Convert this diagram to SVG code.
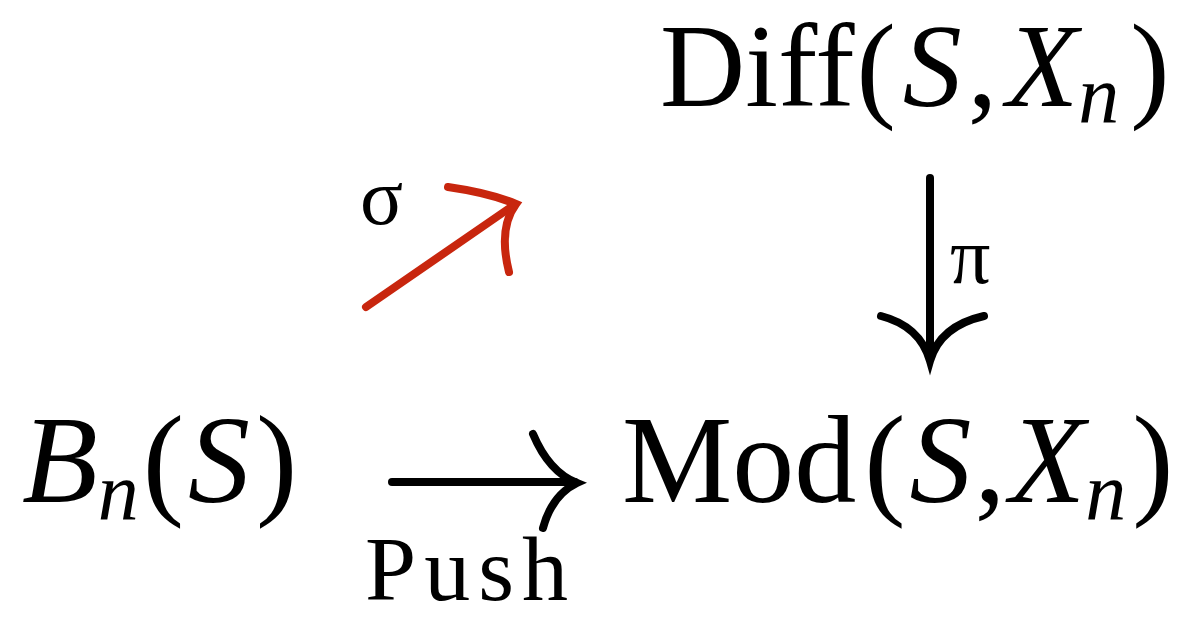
<svg xmlns="http://www.w3.org/2000/svg" width="1192" height="621" viewBox="0 0 1192 621">
<style>
.t{font-family:"Liberation Serif","Times New Roman",serif;fill:#000}
.i{font-style:italic}
.sub{font-style:italic;font-size:82px}
.ar{fill:none;stroke:#000;stroke-width:8;stroke-linecap:round}
.red{stroke:#c8260e}
</style>
<rect width="1192" height="621" fill="#fff"/>
<g id="diff">
<text class="t" x="660" y="106" font-size="118">Diff<tspan dx="2">(</tspan><tspan class="i" dx="7">S</tspan><tspan dx="6">,</tspan><tspan class="i" dx="9">X</tspan><tspan class="sub" dy="16">n</tspan><tspan dx="11" dy="-16">)</tspan></text>
</g>
<g id="mod">
<text class="t" x="622" y="502" font-size="124">Mod<tspan dx="8">(</tspan><tspan class="i" dx="4">S</tspan><tspan dx="3">,</tspan><tspan class="i" dx="4">X</tspan><tspan class="sub" dy="17">n</tspan><tspan dx="6" dy="-17">)</tspan></text>
</g>
<g id="bn">
<text class="t" x="22" y="502" font-size="124"><tspan class="i">B</tspan><tspan class="sub" dy="17">n</tspan><tspan dx="4" dy="-17">(</tspan><tspan class="i" dx="4">S</tspan><tspan dx="6">)</tspan></text>
</g>
<g id="connectors">
<g id="push">
<path class="ar" d="M392,482 H575"/>
<path class="ar" d="M533,434 Q549,472 577,483 Q552,495 543,528"/>
<text class="t" x="365" y="600" font-size="92" letter-spacing="8">Push</text>
</g>
<g id="pi">
<path class="ar" d="M930,178 V358"/>
<path class="ar" d="M881,316 Q920,326 930,361 Q940,326 984,316"/>
<text class="t" x="950" y="283" font-size="80">π</text>
</g>
<g id="sigma">
<path class="ar red" d="M366,307 L514,205"/>
<path class="ar red" d="M448,187 Q490,193 516,204 Q498,228 509,272"/>
<text class="t" x="360" y="224" font-size="80">σ</text>
</g>
</g>
</svg>
